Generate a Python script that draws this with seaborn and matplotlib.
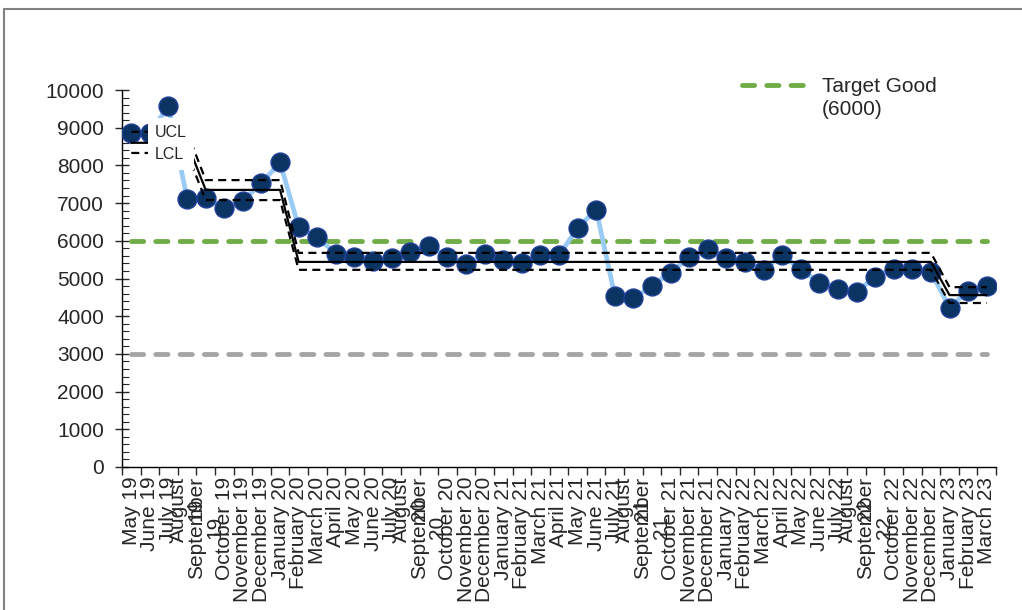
import numpy as np
import pandas as pd
import matplotlib
matplotlib.use("Agg")
import matplotlib.pyplot as plt
from matplotlib.lines import Line2D
from matplotlib.ticker import MultipleLocator, FixedLocator, NullFormatter
import seaborn as sns

# ---- data -------------------------------------------------------------
months = [
    "May 19", "June 19", "July 19", "August\n19", "September\n19",
    "October 19", "November 19", "December 19", "January 20", "February 20",
    "March 20", "April 20", "May 20", "June 20", "July 20", "August\n20",
    "September\n20", "October 20", "November 20", "December 20", "January 21",
    "February 21", "March 21", "April 21", "May 21", "June 21", "July 21",
    "August\n21", "September\n21", "October 21", "November 21", "December 21",
    "January 22", "February 22", "March 22", "April 22", "May 22", "June 22",
    "July 22", "August\n22", "September\n22", "October 22", "November 22",
    "December 22", "January 23", "February 23", "March 23",
]
values = [
    8860, 8860, 9580, 7110, 7140, 6870, 7060, 7530, 8080, 6360,
    6090, 5660, 5570, 5460, 5540, 5700, 5870, 5570, 5380, 5650,
    5490, 5420, 5620, 5620, 6340, 6830, 4540, 4470, 4810, 5150,
    5570, 5790, 5540, 5440, 5230, 5620, 5240, 4880, 4720, 4640,
    5050, 5260, 5260, 5180, 4230, 4670, 4790,
]

# process-limit phases (number of months in each phase)
phase_lengths = [4, 5, 35, 3]
phase_mean = [8600, 7350, 5440, 4560]
phase_ucl = [8890, 7610, 5680, 4770]
phase_lcl = [8330, 7080, 5230, 4350]

target_good = 6000
target_low = 3000

# ---- assemble ---------------------------------------------------------
x = np.arange(len(months))
df = pd.DataFrame({
    "idx": x,
    "value": values,
    "mean": np.repeat(phase_mean, phase_lengths),
    "ucl": np.repeat(phase_ucl, phase_lengths),
    "lcl": np.repeat(phase_lcl, phase_lengths),
    "good": np.full(len(months), target_good),
    "low": np.full(len(months), target_low),
})

sns.set_style("ticks")
plt.rcParams["font.family"] = ["Liberation Sans", "DejaVu Sans"]

fig = plt.figure(figsize=(10.22, 6.10), dpi=100)
W, H = 1022, 610
ax = fig.add_axes([122 / W, 143 / H, 874 / W, 377 / H])

# target lines
tgt_style = dict(lw=3.5, dashes=(2.5, 2.5), dash_capstyle="round", zorder=1)
sns.lineplot(data=df, x="idx", y="good", color="#70AD47", ax=ax, **tgt_style)
sns.lineplot(data=df, x="idx", y="low", color="#A5A5A5", ax=ax, **tgt_style)

# monthly values
sns.lineplot(data=df, x="idx", y="value", color="#9ACBF5", lw=3.4, ax=ax, zorder=2)
sns.scatterplot(data=df, x="idx", y="value", s=185, color="#0B3463",
                edgecolor="#1F3F99", linewidth=1.0, ax=ax, zorder=3)

# control limits
lim_kw = dict(color="black", lw=1.6, zorder=4)
sns.lineplot(data=df, x="idx", y="mean", ax=ax, **lim_kw)
ucl_line, = ax.plot(df["idx"], df["ucl"], dashes=(3.6, 2.4), **lim_kw)
lcl_line, = ax.plot(df["idx"], df["lcl"], dashes=(3.6, 2.4), **lim_kw)

# ---- axes -------------------------------------------------------------
ax.set_xlim(-0.5, len(months) - 0.5)
ax.set_ylim(0, 10000)
ax.set_xlabel("")
ax.set_ylabel("")
for s in ("top", "right"):
    ax.spines[s].set_visible(False)
for s in ("left", "bottom"):
    ax.spines[s].set_color("black")
    ax.spines[s].set_linewidth(1.0)

ax.yaxis.set_major_locator(MultipleLocator(1000))
ax.yaxis.set_minor_locator(MultipleLocator(200))
ax.tick_params(axis="y", which="major", direction="inout", length=10,
               width=1.0, labelsize=15, pad=8)
ax.tick_params(axis="y", which="minor", direction="in", length=5, width=0.8)

ax.xaxis.set_major_locator(FixedLocator(np.arange(len(months) + 1) - 0.5))
ax.xaxis.set_major_formatter(NullFormatter())
ax.xaxis.set_minor_locator(FixedLocator(x))
ax.set_xticks(x, months, minor=True)
ax.tick_params(axis="x", which="major", direction="out", length=6, width=1.0)
ax.tick_params(axis="x", which="minor", length=0, labelsize=15, pad=7,
               labelrotation=90)
for lab in ax.get_xticklabels(minor=True):
    lab.set_multialignment("center")
    lab.set_linespacing(0.95)

# ---- legends ----------------------------------------------------------
leg_lim = ax.legend([ucl_line, lcl_line], ["UCL", "LCL"],
                    loc="upper left", bbox_to_anchor=(148 / W, 1 - 118 / H),
                    bbox_transform=fig.transFigure, fontsize=11.5,
                    handlelength=0, handletextpad=0, labelspacing=0.45,
                    borderpad=0.45, borderaxespad=0, frameon=True,
                    fancybox=False, framealpha=1)
leg_lim.get_frame().set_facecolor("white")
leg_lim.get_frame().set_edgecolor("none")
leg_lim.set_zorder(10)
ax.add_artist(leg_lim)

good_handle = Line2D([], [], color="#70AD47", lw=3.5, dashes=(2.5, 2.5),
                     dash_capstyle="round")
blank_handle = Line2D([], [], color="none")
fig.legend([good_handle, blank_handle], ["Target Good", "(6000)"],
           loc="upper left", bbox_to_anchor=(742 / W, 1 - 77 / H),
           fontsize=15, handlelength=3.0, handletextpad=0.85,
           labelspacing=0.2, borderpad=0, borderaxespad=0, frameon=False)

# chart frame
frame_kw = dict(color="#808080", lw=1.5, transform=fig.transFigure)
fig.add_artist(Line2D([4 / W, 1.01], [1 - 9 / H, 1 - 9 / H], **frame_kw))
fig.add_artist(Line2D([4 / W, 4 / W], [1 - 9 / H, -0.01], **frame_kw))

fig.savefig("out.png", dpi=100)
